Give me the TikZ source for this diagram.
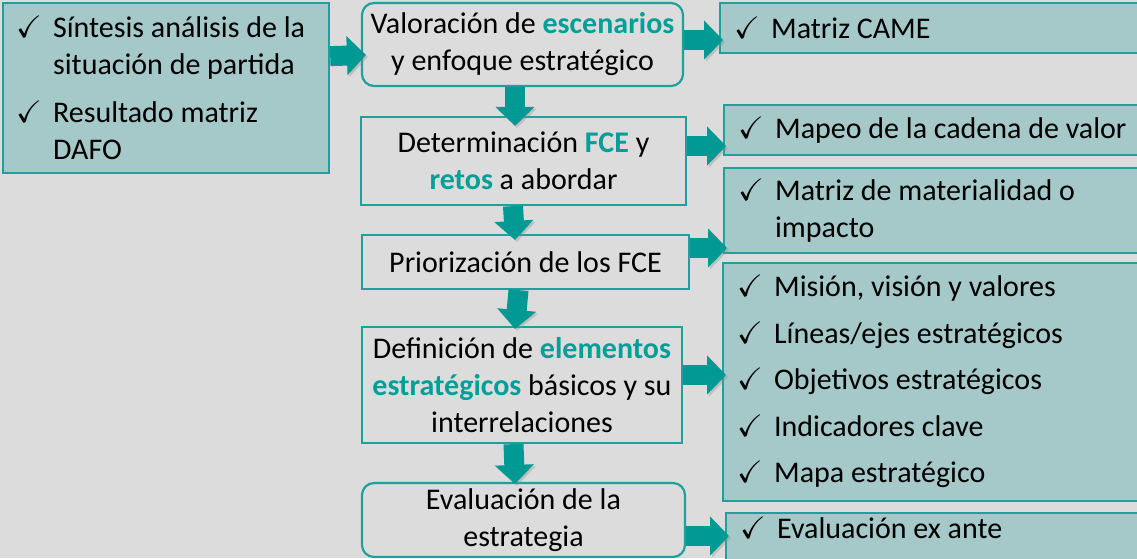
\documentclass[tikz,border=0pt]{standalone}
\usepackage{amssymb}
\usepackage{fontspec}
\setmainfont{Carlito}
\usetikzlibrary{arrows.meta, positioning}

\definecolor{bgcol}{RGB}{220,220,220}
\definecolor{fillcol}{RGB}{165,200,200}
\definecolor{edgecol}{RGB}{32,160,156}
\definecolor{arrowcol}{RGB}{0,153,148}
\definecolor{hlcol}{RGB}{0,160,152}

\newcommand{\chk}{\makebox[35pt][l]{\hspace*{-2pt}\smash{\fontsize{31}{31}\selectfont$\checkmark$}}}
\newcommand{\hl}[1]{\textcolor{hlcol}{\textbf{#1}}}

\begin{document}
\begin{tikzpicture}[
    x=1pt, y=1pt,
    every node/.style={font=\fontsize{30}{37}\selectfont},
    stepbox/.style={draw=edgecol, line width=2.2pt, align=center, inner sep=0pt},
    listbox/.style={draw=edgecol, fill=fillcol, line width=2.2pt, align=flush left,
      anchor=west, text width=400pt, inner xsep=16pt, inner ysep=0pt},
    flow/.style={draw=arrowcol, line width=20pt, -{Triangle[width=38pt, length=19pt]},
      preaction={draw=black!45, opacity=0.35, transform canvas={xshift=2pt, yshift=-2pt}}},
]
  \fill[bgcol] (0,0) rectangle (1137,-558);
  \useasboundingbox (0,0) rectangle (1137,-558);
  \clip (0,0) rectangle (1137,-558);

  % starting point
  \node[listbox, anchor=north west, text width=296pt, inner xsep=15pt, minimum height=170pt] (sdp) at (2,-2)
    {\chk Síntesis análisis de la\\\hspace*{35pt}situación de partida\\[11pt]
     \chk Resultado matriz\\\hspace*{35pt}DAFO};

  % main steps
  \node[stepbox, rounded corners=12pt, minimum width=321pt, minimum height=83pt] (v1) at (522.5,-44.5)
    {Valoración de \hl{escenarios}\\y enfoque estratégico};
  \node[stepbox, minimum width=325pt, minimum height=88pt] (det) at (523.5,-161)
    {Determinación \hl{FCE} y\\\hl{retos} a abordar};
  \node[stepbox, minimum width=327pt, minimum height=54pt] (prio) at (525.5,-262)
    {Priorización de los FCE};
  \node[stepbox, minimum width=320pt, minimum height=116pt] (def) at (522,-385)
    {Definición de \hl{elementos}\\\hl{estratégicos} básicos y su\\interrelaciones};
  \node[stepbox, rounded corners=12pt, minimum width=323pt, minimum height=74pt] (eval) at (523.5,-520)
    {Evaluación de la\\estrategia};

  % tools
  \node[listbox, minimum height=50pt] (came) at (719,-28) {\chk Matriz CAME};
  \node[listbox, minimum height=50pt] (mapeo) at (723,-130) {\chk Mapeo de la cadena de valor};
  \node[listbox, minimum height=85pt] (mat) at (723,-210.5)
    {\chk Matriz de materialidad o\\\hspace*{35pt}impacto};
  \node[listbox, minimum height=238pt] (elem) at (722,-382)
    {\chk Misión, visión y valores\\[9.5pt]
     \chk Líneas/ejes estratégicos\\[9.5pt]
     \chk Objetivos estratégicos\\[9.5pt]
     \chk Indicadores clave\\[9.5pt]
     \chk Mapa estratégico};
  \node[listbox, text height=25pt, text depth=25pt] (exante) at (725,-538) {\chk Evaluación ex ante};

  % arrows
  \draw[flow] ([yshift=32pt]sdp.east) -- ([xshift=5pt, yshift=-10.5pt]v1.west);
  \draw[flow] ([yshift=4.5pt]v1.east) -- ([xshift=4pt, yshift=-12pt]came.west);
  \draw[flow] ([yshift=15pt]det.east) -- ([xshift=3pt, yshift=-16pt]mapeo.west);
  \draw[flow] ([yshift=14pt]prio.east) -- ([xshift=4pt, yshift=-37.5pt]mat.west);
  \draw[flow] ([yshift=10pt]def.east) -- ([xshift=4pt, yshift=7pt]elem.west);
  \draw[flow] ([yshift=-16pt]eval.east) -- ([xshift=4pt, yshift=2pt]exante.west);

  \draw[flow] ([xshift=-7.5pt]v1.south) -- ([xshift=-8.5pt, yshift=-10pt]det.north);
  \draw[flow] ([xshift=-10.5pt]det.south) -- ([xshift=-10.5pt, yshift=-6pt]prio.north);
  \draw[flow] ([xshift=-7pt]prio.south) -- ([xshift=-7pt, yshift=-3pt]def.north);
  \draw[flow] ([xshift=-8.5pt]def.south) -- ([xshift=-8.5pt, yshift=-2pt]eval.north);
\end{tikzpicture}
\end{document}
